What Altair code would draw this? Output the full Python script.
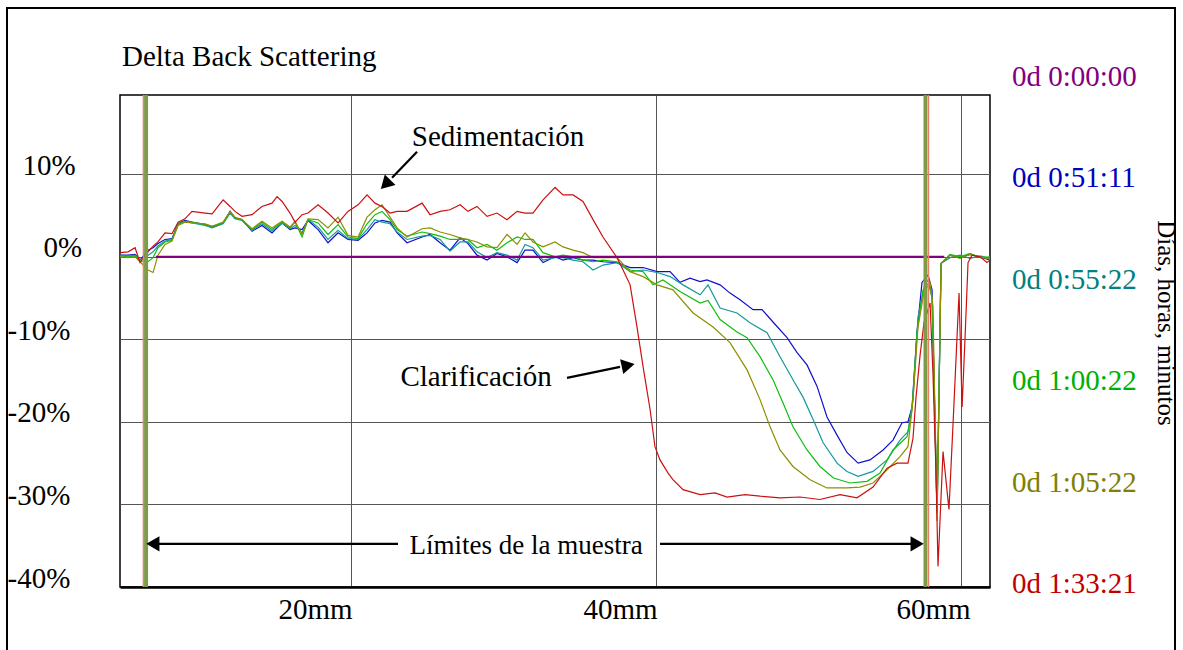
import altair as alt
import pandas as pd

FONT = "Liberation Serif"

# ---------------- data ----------------
SERIES = ["0d 0:00:00", "0d 0:51:11", "0d 0:55:22", "0d 1:00:22", "0d 1:05:22", "0d 1:33:21"]
LINE_COLORS = ["#800080", "#1010CC", "#189898", "#10BE10", "#8E8E00", "#CC1010"]
LABEL_COLORS = ["#800080", "#0000C0", "#008080", "#00B000", "#808000", "#C00000"]

# shared x positions (mm) for the body of the curves
X_BODY = [4.85, 5.38, 5.84, 6.16, 6.69, 7.02, 7.34, 7.80, 8.26, 8.66, 9.11, 9.57, 10.43, 10.89,
          11.61, 12.07, 12.39, 12.85, 13.51, 14.16, 14.82, 15.15, 15.48, 16.00, 16.33, 16.79,
          17.18, 17.84, 18.49, 19.15, 19.80, 20.46, 21.05, 21.57, 22.03, 22.56, 23.02, 23.67,
          24.66, 25.18, 25.84, 26.49, 27.15, 27.67, 28.26, 28.92, 29.57, 30.23, 30.89, 31.41,
          31.93, 32.59, 33.38, 33.90, 34.56, 35.21, 35.87, 36.52, 37.44]

BLUE_BODY = [0.2, 0.2, 0.3, -0.4, 0.8, 1.1, 1.6, 2.1, 2.2, 4.0, 4.4, 4.2, 3.9, 3.6, 4.1, 5.5, 4.7, 4.5,
             3.1, 3.8, 2.9, 3.5, 4.1, 3.3, 3.5, 3.3, 4.4, 3.3, 1.7, 2.9, 2.1, 2.0, 2.9, 4.1, 4.4, 4.2,
             2.9, 1.7, 2.4, 2.7, 1.7, 0.8, 2.3, 1.6, 0.2, -0.4, 0.4, 0.0, -0.7, 0.8, 0.8, -0.7, 0.0,
             -0.4, -0.1, -0.4, -0.4, -0.6, -0.7]
TEAL_BODY = [0.2, 0.1, 0.2, -0.4, 0.2, 0.6, 1.3, 1.9, 2.1, 3.9, 4.3, 4.1, 3.8, 3.5, 4.0, 5.3, 4.6, 4.4,
             3.2, 4.0, 3.1, 3.6, 4.1, 3.4, 3.8, 2.9, 4.5, 3.6, 2.1, 3.2, 2.2, 2.1, 3.3, 4.5, 4.2, 4.0,
             3.0, 2.1, 2.5, 2.6, 2.1, 0.7, 1.8, 1.8, 0.6, -0.1, 0.5, 0.2, -0.4, 1.5, 1.1, -0.4, -0.1,
             -0.1, -0.4, -0.6, -1.6, -1.0, -0.7]
GREEN_BODY = [0.1, 0.0, 0.1, -0.5, -0.6, -0.1, 1.1, 1.8, 2.0, 4.0, 4.3, 4.2, 3.9, 3.7, 4.1, 5.4, 4.7, 4.5,
              3.3, 4.2, 3.3, 3.8, 4.2, 3.5, 4.2, 2.4, 4.5, 4.1, 2.7, 3.9, 2.4, 2.2, 4.0, 5.1, 5.5, 4.5,
              3.3, 2.5, 3.0, 2.8, 2.5, 2.1, 2.1, 2.1, 1.1, 1.5, 0.8, 1.7, 2.4, 2.1, 2.1, 0.5, 0.0,
              0.2, 0.0, -0.4, -0.6, -0.4, -0.6]
OLIVE_BODY = [0.0, -0.1, 0.0, -0.6, -1.6, -1.9, 0.2, 1.5, 1.9, 3.8, 4.2, 4.1, 4.0, 3.7, 4.2, 5.5, 4.8, 4.5,
              3.4, 4.3, 3.5, 3.9, 4.3, 3.6, 4.3, 2.7, 4.6, 4.5, 3.5, 4.8, 2.6, 2.4, 4.8, 5.7, 6.3, 4.8,
              3.5, 2.4, 3.4, 3.5, 3.0, 2.7, 2.3, 2.1, 1.8, 1.2, 1.1, 2.7, 1.5, 2.9, 1.8, 1.2, 1.8,
              1.2, 0.8, 0.5, -0.1, -0.1, -0.1]
RED_BODY = [0.5, 0.6, 1.1, -0.7, 0.6, 1.3, 1.8, 2.9, 2.8, 4.2, 4.6, 5.5, 5.3, 5.2, 6.9, 6.1, 5.5, 4.9,
            5.1, 6.1, 6.5, 7.3, 6.7, 5.3, 4.2, 5.1, 5.3, 6.3, 5.3, 4.1, 5.5, 6.3, 7.5, 6.5, 6.1, 5.3,
            5.5, 5.5, 6.5, 5.1, 5.5, 5.7, 6.3, 5.5, 6.1, 4.9, 5.3, 4.5, 5.5, 5.3, 5.3, 6.9, 8.4,
            7.5, 7.5, 6.7, 4.5, 2.4, -0.1]

BLUE_TAIL_X = [38.30, 39.15, 40.07, 40.92, 41.57, 42.23, 42.89, 43.34, 44.20, 44.85, 45.51, 46.36, 46.95,
               47.67, 48.59, 49.25, 49.90, 50.56, 51.21, 51.87, 52.52, 53.25, 54.03, 54.89, 55.54, 56.13,
               56.52, 56.79, 57.11, 57.44, 57.84, 58.10, 58.43, 58.69, 59.28, 59.93, 60.59, 61.25, 61.90]
BLUE_TAIL_Y = [-1.3, -1.3, -1.8, -1.8, -3.1, -2.6, -3.0, -2.8, -3.4, -4.4, -5.2, -6.4, -6.4, -7.9, -9.8,
               -11.6, -13.1, -15.7, -19.4, -21.6, -23.7, -25.0, -24.6, -23.4, -22.2, -20.1, -20.0, -18.2,
               -9.2, -3.1, -2.2, -4.0, -31.0, -0.8, 0.2, -0.1, 0.3, 0.0, -0.4]

TEAL_TAIL_X = [38.30, 39.15, 40.07, 40.92, 41.77, 42.89, 43.41, 44.20, 45.31, 46.16, 47.28, 48.13, 48.98,
               49.64, 50.30, 50.95, 51.87, 52.52, 53.25, 54.23, 55.15, 56.00, 56.52, 56.85, 57.18, 57.64,
               57.90, 58.10, 58.43, 58.69, 59.28, 59.93, 60.59, 61.25, 61.90]
TEAL_TAIL_Y = [-1.8, -1.6, -1.9, -2.4, -3.4, -4.6, -3.4, -6.2, -6.8, -8.0, -9.2, -12.1, -14.9, -17.0,
               -19.7, -22.5, -25.0, -26.0, -26.6, -26.0, -24.6, -22.2, -21.2, -17.3, -7.3, -3.1, -2.8,
               -5.0, -31.0, -0.8, -0.1, 0.2, -0.2, 0.1, -0.2]

GREEN_TAIL_X = [38.30, 39.15, 39.80, 40.46, 41.57, 42.89, 43.41, 44.20, 45.31, 45.97, 46.82, 47.67, 48.33,
                48.98, 49.90, 50.75, 51.64, 52.72, 53.84, 54.69, 55.54, 56.46, 56.79, 57.11, 57.51, 57.90,
                58.10, 58.43, 58.69, 59.28, 59.93, 60.59, 61.25, 61.90]
GREEN_TAIL_Y = [-1.6, -1.8, -3.4, -2.8, -4.2, -5.6, -5.3, -7.6, -9.1, -9.8, -12.1, -14.9, -17.7, -20.6,
                -23.4, -25.4, -26.8, -27.4, -27.2, -26.2, -23.4, -21.8, -18.5, -9.2, -4.0, -3.5, -5.0,
                -31.0, -0.8, 0.3, 0.0, 0.4, -0.1, 0.0]

OLIVE_TAIL_X = [38.30, 39.15, 40.07, 41.11, 42.43, 43.74, 44.85, 45.97, 46.82, 47.48, 48.13, 48.98, 50.10,
                51.21, 52.52, 53.38, 54.23, 55.15, 56.00, 56.52, 56.85, 57.18, 57.64, 57.97, 58.16, 58.43,
                58.69, 59.28, 59.93, 60.59, 61.25, 61.90]
OLIVE_TAIL_Y = [-1.8, -2.4, -3.4, -4.0, -6.8, -8.5, -10.4, -13.7, -17.3, -20.6, -23.4, -25.4, -27.0,
                -28.0, -28.0, -27.9, -27.4, -25.8, -24.2, -23.0, -17.3, -8.5, -3.6, -3.1, -6.0, -32.0,
                -0.8, 0.2, -0.2, 0.3, 0.0, -0.3]

RED_TAIL_X = [37.84, 38.30, 38.75, 39.15, 39.61, 39.93, 40.26, 40.79, 41.11, 41.77, 42.89, 43.87, 44.66,
              45.84, 46.82, 48.13, 49.44, 50.75, 52.07, 53.18, 54.23, 55.15, 55.80, 56.52, 56.85, 57.05,
              57.31, 57.57, 57.97, 58.16, 58.36, 58.49, 58.82, 59.21, 59.48, 59.87, 60.07, 60.26, 60.46,
              60.72, 61.25, 61.70, 61.90]
RED_TAIL_Y = [-1.6, -3.4, -8.5, -13.3, -18.5, -23.0, -24.6, -26.2, -27.0, -28.2, -28.8, -28.6, -29.1,
              -28.8, -29.0, -29.2, -29.1, -29.4, -28.8, -29.2, -27.9, -25.6, -25.0, -25.0, -22.0, -17.0,
              -12.0, -8.0, -5.6, -14.1, -26.2, -37.5, -23.6, -30.6, -20.1, -4.4, -18.2, -10.0, -0.7,
              0.2, 0.0, -0.7, -0.4]

PURPLE_X = [7.2, 58.9]
PURPLE_Y = [0.0, 0.0]

LIMITS = [6.56, 57.67]          # sample limit markers (mm)
LIMITS_EDGE = [6.38, 57.87]

X_TICKS = [20, 40, 60]
Y_TICKS = [-40, -30, -20, -10, 0, 10]
X_DOMAIN = [4.85, 61.9]
Y_DOMAIN = [-40, 19.6]

TITLE = "Delta Back Scattering"
SIDE_TITLE = "Días, horas, minutos"
NOTES = ["Sedimentación", "Clarificación", "Límites de la muestra"]

# ---------------- build ----------------
W, H = 870, 492
FS = 29
xs = alt.Scale(domain=X_DOMAIN, nice=False, zero=False)
ys = alt.Scale(domain=Y_DOMAIN, nice=False, zero=False)

x_axis = alt.Axis(values=X_TICKS, labelExpr="datum.value + 'mm'", grid=True, gridColor="#555555",
                  gridWidth=1, ticks=False, tickSize=0, domain=True, domainColor="black",
                  domainWidth=2.5, labelFont=FONT, labelFontSize=FS, labelColor="black",
                  labelAlign="right", labelBaseline="alphabetic", labelPadding=31, labelFlush=False,
                  labelOverlap=False,
                  labelOffset={"condition": {"test": "datum.value == 60", "value": 9}, "value": 1},
                  title=None)
y_axis = alt.Axis(values=Y_TICKS, labelExpr="datum.value + '%'", grid=True, gridColor="#555555",
                  gridWidth=1, ticks=False, tickSize=0, domain=False, labelFont=FONT,
                  labelFontSize=FS, labelColor="black", labelAlign="left",
                  labelBaseline="alphabetic", labelFlush=False, labelOverlap=False,
                  labelPadding={"condition": [{"test": "datum.value == 10", "value": 98},
                                              {"test": "datum.value == 0", "value": 77}],
                                "value": 113},
                  title=None)


def X(field="x"):
    return alt.X(f"{field}:Q", scale=xs, axis=x_axis)


def Y(field="y"):
    return alt.Y(f"{field}:Q", scale=ys, axis=y_axis)


def line_layer(xv, yv, color, width):
    assert len(xv) == len(yv)
    df = pd.DataFrame({"x": xv, "y": yv, "i": range(len(xv))})
    return alt.Chart(df).mark_line(color=color, strokeWidth=width, clip=True).encode(
        x=X(), y=Y(), order="i:Q")


curves = [
    (BLUE_BODY, BLUE_TAIL_X, BLUE_TAIL_Y, LINE_COLORS[1]),
    (TEAL_BODY, TEAL_TAIL_X, TEAL_TAIL_Y, LINE_COLORS[2]),
    (GREEN_BODY, GREEN_TAIL_X, GREEN_TAIL_Y, LINE_COLORS[3]),
    (OLIVE_BODY, OLIVE_TAIL_X, OLIVE_TAIL_Y, LINE_COLORS[4]),
    (RED_BODY, RED_TAIL_X, RED_TAIL_Y, LINE_COLORS[5]),
]
layers = []
for body, tx, ty, col in curves:
    assert len(body) == len(X_BODY)
    layers.append(line_layer(X_BODY + tx, body + ty, col, 1.2))
layers.append(line_layer(PURPLE_X, PURPLE_Y, LINE_COLORS[0], 2.2))

# sample limit markers
lim_df = pd.DataFrame({"x": LIMITS})
edge_df = pd.DataFrame({"x": LIMITS_EDGE})
layers.append(alt.Chart(lim_df).mark_rule(color="#7E9B47", strokeWidth=4).encode(x=X()))
layers.append(alt.Chart(edge_df).mark_rule(color="#E8806A", strokeWidth=1.3).encode(x=X()))

# annotation texts (data coordinates)
note_df = pd.DataFrame({"t": NOTES, "x": [29.64, 28.2, 31.48], "y": [13.45, -15.63, -35.98],
                        "s": [FS, FS, 27]})
for _, r in note_df.iterrows():
    layers.append(alt.Chart(pd.DataFrame([r])).mark_text(
        font=FONT, fontSize=int(r["s"]), color="black", align="center", baseline="alphabetic"
    ).encode(x=X(), y=Y(), text="t:N"))

# arrows: shafts
seg_df = pd.DataFrame({
    "x": [24.33, 34.16, 23.08, 40.26],
    "y": [12.72, -14.66, -34.77, -34.77],
    "x2": [22.69, 37.64, 7.34, 56.79],
    "y2": [9.57, -13.33, -34.77, -34.77],
})
layers.append(alt.Chart(seg_df).mark_rule(color="black", strokeWidth=2.2).encode(
    x=X(), y=Y(), x2="x2:Q", y2="y2:Q"))
# arrows: heads
head_df = pd.DataFrame({
    "x": [22.36, 38.03, 7.15, 56.98],
    "y": [8.96, -13.20, -34.77, -34.77],
    "a": [225, 78, 270, 90],
})
for _, r in head_df.iterrows():
    layers.append(alt.Chart(pd.DataFrame([r])).mark_point(
        shape="triangle", filled=True, color="black", opacity=1, size=230, angle=float(r["a"])
    ).encode(x=X(), y=Y()))

# chart title (top left) and series labels on the right
one = pd.DataFrame({"t": [TITLE]})
layers.append(alt.Chart(one).mark_text(font=FONT, fontSize=FS, color="black", align="left",
                                       baseline="alphabetic").encode(
    x=alt.value(2), y=alt.value(-29), text="t:N"))
for i, (name, col) in enumerate(zip(SERIES, LABEL_COLORS)):
    layers.append(alt.Chart(pd.DataFrame({"t": [name]})).mark_text(
        font=FONT, fontSize=FS, color=col, align="left", baseline="alphabetic"
    ).encode(x=alt.value(892), y=alt.value(-9 + i * 101.4), text="t:N"))
layers.append(alt.Chart(pd.DataFrame({"t": [SIDE_TITLE]})).mark_text(
    font=FONT, fontSize=25, color="black", align="center", baseline="middle", angle=90
).encode(x=alt.value(1046), y=alt.value(228), text="t:N"))

# outer frame of the figure
layers.append(alt.Chart(pd.DataFrame({"a": [0]})).mark_rect(
    fill="transparent", stroke="black", strokeWidth=2
).encode(x=alt.value(-113), x2=alt.value(1055), y=alt.value(-87), y2=alt.value(700)))

chart = alt.layer(*layers).properties(
    width=W, height=H,
    padding={"left": 120, "top": 95, "right": 193, "bottom": 63},
    autosize=alt.AutoSizeParams(type="none"),
    background="white",
).configure_view(stroke="black", strokeWidth=1.5)

chart.save("out.html", embed_options={"renderer": "svg", "actions": False})
